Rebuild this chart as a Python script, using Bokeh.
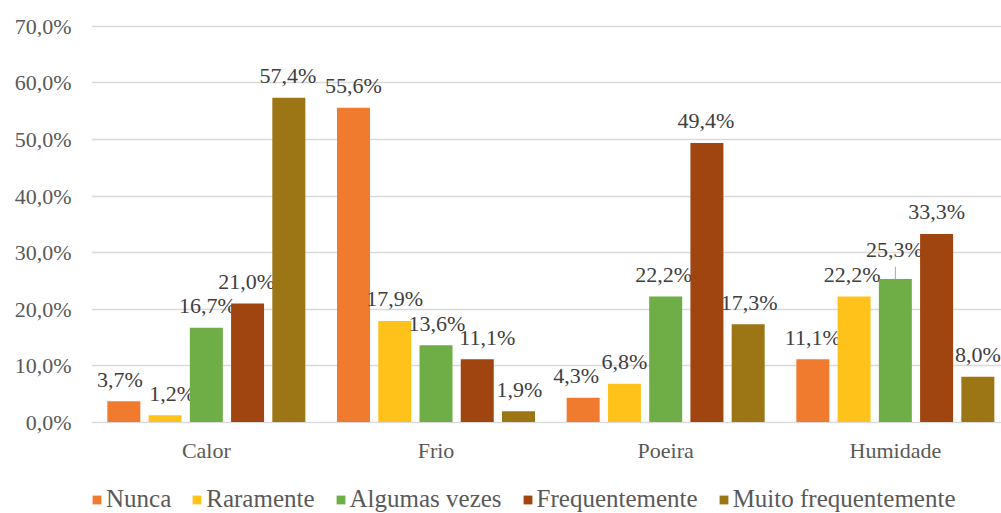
import numpy as np
from bokeh.plotting import figure
from bokeh.layouts import column
from bokeh.models import Range1d, FixedTicker, Legend, LegendItem, ColumnDataSource
from bokeh.core.properties import value
from bokeh.embed import file_html
from bokeh.resources import INLINE

# ---- data ----
categories = ["Calor", "Frio", "Poeira", "Humidade"]
series_names = ["Nunca", "Raramente", "Algumas vezes", "Frequentemente", "Muito frequentemente"]
nunca = [3.7, 55.6, 4.3, 11.1]
raramente = [1.2, 17.9, 6.8, 22.2]
algumas_vezes = [16.7, 13.6, 22.2, 25.3]
frequentemente = [21.0, 11.1, 49.4, 33.3]
muito_frequentemente = [57.4, 1.9, 17.3, 8.0]
y_ticks = [0, 10, 20, 30, 40, 50, 60, 70]
y_tick_labels = ["0,0%", "10,0%", "20,0%", "30,0%", "40,0%", "50,0%", "60,0%", "70,0%"]

series_values = [nunca, raramente, algumas_vezes, frequentemente, muito_frequentemente]

# ---- styles ----
colors = ["#F07B2E", "#FFC21A", "#6FAD46", "#A0450F", "#9C7515"]
label_dx = [[-4, 0, -7, 0], [7, 0, 0, -2], [1, 1, -2, -1], [-1, 10, -1, 0], [-1, 1, 1, 0]]
label_dy = [[0, 0, 0, 0], [0, 0, 0, 0], [0, 0, 0, -8], [0, 0, 0, 0], [0, 0, 0, 0]]
FONT_NAME = "'Liberation Serif', 'Times New Roman', serif"
FONT = value(FONT_NAME)
pitch = 0.1796
bar_w = 0.1437

p = figure(width=1001, height=465, output_backend="svg", toolbar_location=None,
           x_range=Range1d(0, 910 / 229.67), y_range=Range1d(-0.25, 70.35),
           min_border_left=91, min_border_right=0, min_border_top=24, min_border_bottom=41)
p.outline_line_color = None
p.background_fill_color = "white"
p.border_fill_color = "white"

for k, (name, vals) in enumerate(zip(series_names, series_values)):
    xs = np.arange(len(categories)) + 0.5 + (k - 2) * pitch
    src = ColumnDataSource(dict(
        x=xs, top=vals,
        label=[f"{v:.1f}%".replace(".", ",") for v in vals],
        dx=label_dx[k], dy=[-22 + d for d in label_dy[k]],
    ))
    p.vbar(x="x", top="top", width=bar_w, bottom=0, source=src,
           fill_color=colors[k], line_color=None)
    p.text(x="x", y="top", text="label", x_offset="dx", y_offset="dy", source=src,
           text_align="center", text_baseline="alphabetic", text_font=FONT,
           text_font_size="22px", text_color="#404040")

# leader line for the displaced label (Algumas vezes / Humidade)
lx = 3 + 0.5 + 0 * pitch
p.segment(x0=[lx], y0=[algumas_vezes[3]], x1=[lx], y1=[algumas_vezes[3] + 2.2],
          line_color="#A6A6A6", line_width=1)

# axes
p.xgrid.visible = False
p.ygrid.grid_line_color = "#D9D9D9"
p.ygrid.grid_line_width = 1.5
p.ygrid.ticker = FixedTicker(ticks=y_ticks)

p.yaxis.ticker = FixedTicker(ticks=y_ticks)
p.yaxis.major_label_overrides = {t: l for t, l in zip(y_ticks, y_tick_labels)}
p.yaxis.axis_line_color = None
p.yaxis.major_tick_line_color = None
p.yaxis.minor_tick_line_color = None
p.yaxis.major_tick_out = 0
p.yaxis.major_label_standoff = 20
p.yaxis.major_label_text_font = FONT_NAME
p.yaxis.major_label_text_font_size = "22px"
p.yaxis.major_label_text_color = "#595959"

cat_ticks = [i + 0.5 for i in range(len(categories))]
p.xaxis.ticker = FixedTicker(ticks=cat_ticks)
p.xaxis.major_label_overrides = {t: c for t, c in zip(cat_ticks, categories)}
p.xaxis.axis_line_color = None
p.xaxis.major_tick_line_color = None
p.xaxis.minor_tick_line_color = None
p.xaxis.major_tick_out = 0
p.xaxis.major_label_standoff = 14
p.xaxis.major_label_text_font = FONT_NAME
p.xaxis.major_label_text_font_size = "22px"
p.xaxis.major_label_text_color = "#595959"

# ---- legend strip ----
leg = figure(width=1001, height=48, output_backend="svg", toolbar_location=None,
             x_range=Range1d(0, 1), y_range=Range1d(0, 1), min_border=0,
             x_axis_location=None, y_axis_location=None)
leg.grid.visible = False
leg.outline_line_color = None
leg.border_fill_color = "white"
items = []
for k, name in enumerate(series_names):
    # zero-height stand-in renderer so that the legend can draw each swatch
    r = leg.vbar(x=[0.5], top=[0], bottom=0, width=0.01, fill_color=colors[k], line_color=None)
    items.append(LegendItem(label=name, renderers=[r]))
legend = Legend(items=items, orientation="horizontal", location=(0, 0),
                label_text_font=FONT_NAME, label_text_font_size="25px",
                label_text_color="#595959", glyph_width=11, glyph_height=11,
                label_standoff=4, spacing=20, padding=0, margin=0,
                border_line_color=None, background_fill_alpha=0)
leg.add_layout(legend)

open("out.html", "w").write(file_html(column(p, leg, spacing=0), INLINE))
